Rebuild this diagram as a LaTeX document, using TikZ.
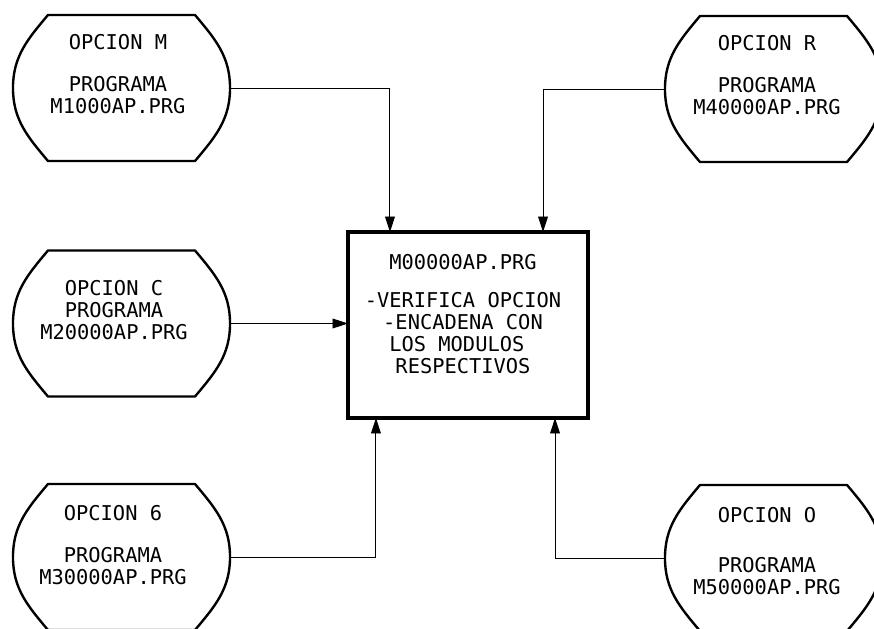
\documentclass[tikz,border=0pt]{standalone}
\usepackage{fontspec}
\setmonofont{DejaVu Sans Mono}
\usetikzlibrary{arrows.meta}
\usetikzlibrary{calc,positioning}
\newcommand{\optionshape}[1]{%
	\coordinate (#1E) at ([xshift=\OptBulge]#1.east);
	\coordinate (#1W) at ([xshift=-\OptBulge]#1.west);
	\draw[optline] (#1.north west) -- (#1.north east)
		to[out=-50,in=90] (#1E) to[out=-90,in=50] (#1.south east)
		-- (#1.south west) to[out=130,in=-90] (#1W) to[out=90,in=-130] cycle;
}

\begin{document}
\begin{tikzpicture}[x=0.025cm,y=-0.025cm]
	
	% Definitions.
	\tikzstyle{every node}=[
		inner sep=0pt,
		outer sep=0pt,
		font=\ttfamily\fontsize{14.5}{15.6}\selectfont
	]
	\def\myarrow{Triangle[width=7pt,length=11pt]};
	\def\OptWidth{3.675cm};
	\def\OptHeight{3.65cm};
	\def\OptBulge{0.875cm};
	\def\OptGap{14pt};
	\tikzstyle{option}=[minimum width=\OptWidth, minimum height=\OptHeight]
	\tikzstyle{optline}=[line width=1.7pt, line join=round]
	\tikzstyle{optext}=[align=center]
	\tikzstyle{link}=[line width=0.7pt, -{\myarrow}]
	
	\useasboundingbox (0,0) rectangle (874,629);
	
	% ---------- Main Module ---------
	
	\node[draw, line width=2.4pt, minimum width=6cm, minimum height=4.65cm] (main) at (468,325) {};
	\node[optext] (mainText) at (463,314) {M00000AP.PRG\\[11pt]-VERIFICA OPCION\\-ENCADENA CON\\LOS MODULOS\hphantom{X}\\RESPECTIVOS};
	
	% ------------ Options -----------
	
	\node[option] (optM) at (121.5,88) {};
	\optionshape{optM}
	\node[optext] (txtM) at (118,74) {OPCION M\\[\OptGap]PROGRAMA\\M1000AP.PRG};
	
	\node[option] (optR) at (773.5,89) {};
	\optionshape{optR}
	\node[optext] (txtR) at (767,75) {OPCION R\\[\OptGap]PROGRAMA\\M40000AP.PRG};
	
	\node[option] (optC) at (121.5,323.5) {};
	\optionshape{optC}
	\node[optext] (txtC) at (114,310) {OPCION C\\PROGRAMA\\M20000AP.PRG};
	
	\node[option] (optG) at (121.5,557) {};
	\optionshape{optG}
	\node[optext] (txtG) at (113,545) {OPCION 6\\[\OptGap]PROGRAMA\\M30000AP.PRG};
	
	\node[option] (optO) at (773.5,558) {};
	\optionshape{optO}
	\node[optext] (txtO) at (767,551) {OPCION O\\[20pt]PROGRAMA\\M50000AP.PRG};
	
	% ------------ Connections -----------
	
	\coordinate (inM) at ([xshift=1.05cm]main.north west);
	\coordinate (inR) at ([xshift=-1.125cm]main.north east);
	\coordinate (inG) at ([xshift=0.7cm]main.south west);
	\coordinate (inO) at ([xshift=-0.825cm]main.south east);
	
	\draw[link] (optME) -| (inM);
	\draw[link] (optRW) -| (inR);
	\draw[link] (optCE) -- (optCE -| main.west);
	\draw[link] (optGE) -| (inG);
	\draw[link] (optOW) -| (inO);
	
\end{tikzpicture}
\end{document}
